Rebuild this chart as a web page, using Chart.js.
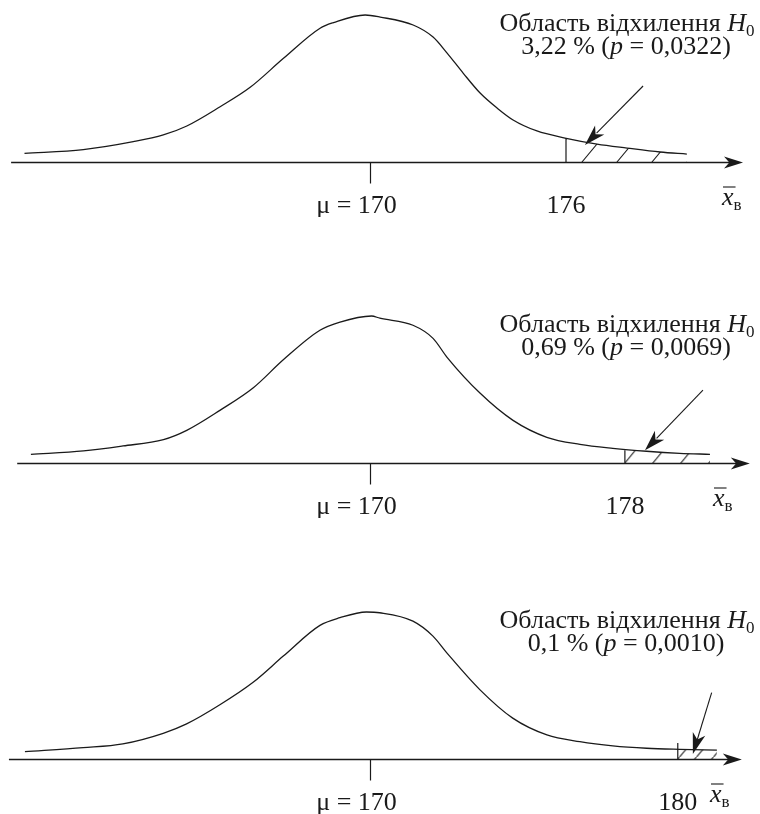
<!DOCTYPE html>
<html>
<head>
<meta charset="utf-8">
<script src="https://cdn.jsdelivr.net/npm/chart.js@4.4.0/dist/chart.umd.min.js"></script>
<style>
  html, body { margin: 0; padding: 0; background: #fff; }
  #wrap { position: relative; width: 760px; height: 814px; overflow: hidden; }
  .panel { position: absolute; left: 0; width: 760px; height: 217px; }
</style>
</head>
<body>
<div id="wrap">
  <div class="panel" style="top:0px"><canvas id="c0" width="760" height="217"></canvas></div>
  <div class="panel" style="top:301px"><canvas id="c1" width="760" height="217"></canvas></div>
  <div class="panel" style="top:597px"><canvas id="c2" width="760" height="217"></canvas></div>
</div>
<script>
// values (x in units of the variable, y as share of the peak height)
const meanValue = 170;
const critValues = [176, 178, 180];
const shareLabels = ['3,22 %', '0,69 %', '0,1 %'];
const pLabels = ['0,0322', '0,0069', '0,0010'];

// x range of each panel (the drawing is schematic, each panel has its own stretch)
const xMin = [158.67, 158.39, 157.99];
const xMax = [181.94, 182.24, 182.67];

const curve1X = [159.42, 161.22, 162.75, 163.67, 164.39, 165.41, 166.33, 167.35, 168.47, 168.88, 169.85, 170.31, 171.32, 171.93, 172.36, 172.85, 173.37, 173.89, 174.38, 175.11, 175.97, 176.95, 177.87, 178.88, 179.70];
const curve1Y = [0.059, 0.084, 0.138, 0.184, 0.245, 0.376, 0.508, 0.705, 0.910, 0.948, 1.000, 0.986, 0.932, 0.850, 0.741, 0.605, 0.469, 0.367, 0.286, 0.211, 0.163, 0.122, 0.095, 0.068, 0.054];

const curve2X = [159.36, 161.01, 162.25, 163.52, 164.25, 165.29, 166.34, 167.28, 168.43, 169.06, 170.05, 170.31, 171.35, 171.98, 172.42, 173.46, 174.49, 175.55, 176.59, 177.62, 178.68, 179.72, 180.67];
const curve2Y = [0.059, 0.082, 0.116, 0.159, 0.222, 0.358, 0.512, 0.702, 0.903, 0.959, 1.000, 0.985, 0.937, 0.848, 0.719, 0.474, 0.290, 0.175, 0.127, 0.100, 0.080, 0.066, 0.059];

const curve3X = [158.80, 160.69, 161.98, 163.29, 164.05, 165.13, 166.21, 167.19, 168.38, 169.03, 169.89, 170.32, 171.40, 172.05, 172.50, 173.57, 174.64, 175.75, 176.82, 177.89, 178.99, 180.06, 181.27];
const curve3Y = [0.050, 0.077, 0.103, 0.175, 0.239, 0.369, 0.522, 0.700, 0.909, 0.961, 1.000, 0.995, 0.938, 0.836, 0.722, 0.472, 0.278, 0.164, 0.118, 0.089, 0.073, 0.066, 0.061];

// height of the critical line and of the curve where the tail starts
const critLineTop = [0.163, 0.086, 0.109];
const tailStartY = [0.163, 0.086, 0.068];

// pointer arrows to the rejection region
const arrowFromX = [178.36, 180.45, 181.10];
const arrowFromY = [0.517, 0.495, 0.451];
const arrowToX = [176.58, 178.63, 180.49];
const arrowToY = [0.116, 0.086, 0.034];

// x axis extent
const axisFrom = [159.01, 158.93, 158.28];
const axisTo = [181.42, 181.92, 182.08];

const curvesX = [curve1X, curve2X, curve3X];
const curvesY = [curve1Y, curve2Y, curve3Y];

// look
const INK = '#1a1a1a';
const FONT = '"Liberation Serif", "Times New Roman", serif';
const TEXT_SIZE = 26;
const SUB_SIZE = 17;
const hatchGap = [35, 28, 17];
const hatchShift = [16, 0, 0];
const xbarLeft = [722, 713, 710];
const hatches = [];

function fontStr(size, italic) {
  return (italic ? 'italic ' : '') + size + 'px ' + FONT;
}

// draw a line of text made of pieces (plain / italic / subscript)
function drawRich(ctx, parts, x, y, align) {
  let total = 0;
  parts.forEach(p => {
    ctx.font = fontStr(p.sub ? SUB_SIZE : TEXT_SIZE, p.it);
    p.w = ctx.measureText(p.t).width;
    total += p.w;
  });
  let cx = align === 'center' ? x - total / 2 : (align === 'right' ? x - total : x);
  ctx.textAlign = 'left';
  ctx.textBaseline = 'alphabetic';
  parts.forEach(p => {
    ctx.font = fontStr(p.sub ? SUB_SIZE : TEXT_SIZE, p.it);
    ctx.fillText(p.t, cx, y + (p.sub ? 5 : 0));
    cx += p.w;
  });
  return total;
}

function arrowHead(ctx, x1, y1, x2, y2, len, half) {
  const a = Math.atan2(y2 - y1, x2 - x1);
  const c = Math.cos(a), s = Math.sin(a);
  const bx = x2 - len * c, by = y2 - len * s;
  const notch = len * 0.72;
  ctx.beginPath();
  ctx.moveTo(x2, y2);
  ctx.lineTo(bx - s * half, by + c * half);
  ctx.lineTo(x2 - notch * c, y2 - notch * s);
  ctx.lineTo(bx + s * half, by - c * half);
  ctx.closePath();
  ctx.fill();
}

function makeHatch(ctx, w) {
  const h = Math.round(w * 1.2);
  const tile = document.createElement('canvas');
  tile.width = w;
  tile.height = h;
  const g = tile.getContext('2d');
  g.strokeStyle = INK;
  g.lineWidth = 1.1;
  g.beginPath();
  g.moveTo(-w * 0.1, h * 1.1);
  g.lineTo(w * 1.1, -h * 0.1);
  g.stroke();
  return { pattern: ctx.createPattern(tile, 'repeat'), w: w, h: h };
}

const decorPlugin = {
  id: 'decor',
  beforeDatasetsDraw(chart) {
    const i = chart.options.panelIndex;
    const hatch = hatches[i];
    const X = chart.scales.x.getPixelForValue(critValues[i]) + hatchShift[i];
    const Y = chart.scales.y.getPixelForValue(0);
    const tx = ((X + hatch.w * Y / hatch.h) % hatch.w + hatch.w) % hatch.w;
    hatch.pattern.setTransform(new DOMMatrix([1, 0, 0, 1, tx, 0]));
  },
  afterDraw(chart) {
    const i = chart.options.panelIndex;
    const ctx = chart.ctx;
    const xs = chart.scales.x, ys = chart.scales.y;
    const Y = Math.round(ys.getPixelForValue(0)) + 0.5;
    ctx.save();
    ctx.strokeStyle = INK;
    ctx.fillStyle = INK;
    ctx.lineWidth = 1.3;

    // x axis with arrow
    const ax0 = xs.getPixelForValue(axisFrom[i]);
    const ax1 = xs.getPixelForValue(axisTo[i]);
    ctx.beginPath();
    ctx.moveTo(ax0, Y);
    ctx.lineTo(ax1 - 8, Y);
    ctx.stroke();
    arrowHead(ctx, ax0, Y, ax1, Y, 19, 6);

    // tick at the mean
    const mx = Math.round(xs.getPixelForValue(meanValue)) + 0.5;
    ctx.lineWidth = 1.2;
    ctx.beginPath();
    ctx.moveTo(mx, Y);
    ctx.lineTo(mx, Y + 21);
    ctx.stroke();

    // pointer arrow
    const p0x = xs.getPixelForValue(arrowFromX[i]), p0y = ys.getPixelForValue(arrowFromY[i]);
    const p1x = xs.getPixelForValue(arrowToX[i]), p1y = ys.getPixelForValue(arrowToY[i]);
    ctx.lineWidth = 1.1;
    ctx.beginPath();
    ctx.moveTo(p0x, p0y);
    ctx.lineTo(p1x + (p0x - p1x) * 0.2, p1y + (p0y - p1y) * 0.2);
    ctx.stroke();
    arrowHead(ctx, p0x, p0y, p1x, p1y, 21, 6.5);

    // labels under the axis
    drawRich(ctx, [{ t: 'μ = ' + meanValue }], mx - 14, Y + 50, 'center');
    drawRich(ctx, [{ t: String(critValues[i]) }], xs.getPixelForValue(critValues[i]), Y + 50, 'center');

    // x-bar with subscript
    const xl = xbarLeft[i];
    ctx.font = fontStr(TEXT_SIZE, true);
    const xw = ctx.measureText('x').width;
    drawRich(ctx, [{ t: 'x', it: true }, { t: 'в', sub: true }], xl, Y + 42, 'left');
    ctx.lineWidth = 1.1;
    ctx.beginPath();
    ctx.moveTo(xl + 1, Y + 24.5);
    ctx.lineTo(xl + xw + 2, Y + 24.5);
    ctx.stroke();

    // header
    drawRich(ctx, [{ t: 'Область відхилення ' }, { t: 'H', it: true }, { t: '0', sub: true }], 627, 31, 'center');
    drawRich(ctx, [{ t: shareLabels[i] + ' (' }, { t: 'p', it: true }, { t: ' = ' + pLabels[i] + ')' }], 626, 54, 'center');
    ctx.restore();
  }
};

function buildPanel(i) {
  const canvas = document.getElementById('c' + i);
  const ctx = canvas.getContext('2d');
  const xsArr = curvesX[i], ysArr = curvesY[i];
  const crit = critValues[i];

  const curve = xsArr.map((x, k) => ({ x: x, y: ysArr[k] }));
  const tail = [{ x: crit, y: 0 }, { x: crit, y: tailStartY[i] }]
    .concat(curve.filter(p => p.x > crit));
  tail.push({ x: tail[tail.length - 1].x, y: 0 });
  const critLine = [{ x: crit, y: 0 }, { x: crit, y: critLineTop[i] }];

  hatches[i] = makeHatch(ctx, hatchGap[i]);

  new Chart(ctx, {
    type: 'line',
    data: {
      datasets: [
        {
          data: tail,
          borderWidth: 0,
          borderColor: 'rgba(0,0,0,0)',
          backgroundColor: hatches[i].pattern,
          fill: true,
          tension: 0,
          pointRadius: 0,
          order: 3
        },
        {
          data: curve,
          borderColor: INK,
          borderWidth: 1.3,
          fill: false,
          cubicInterpolationMode: 'monotone',
          pointRadius: 0,
          order: 1
        },
        {
          data: critLine,
          borderColor: INK,
          borderWidth: 1.2,
          fill: false,
          tension: 0,
          pointRadius: 0,
          order: 2
        }
      ]
    },
    options: {
      panelIndex: i,
      responsive: false,
      animation: false,
      devicePixelRatio: 1,
      layout: { padding: { top: 15, bottom: 55, left: 0, right: 0 } },
      scales: {
        x: { type: 'linear', min: xMin[i], max: xMax[i], display: false },
        y: { type: 'linear', min: 0, max: 1, display: false }
      },
      datasets: { line: { clip: false } },
      plugins: { legend: { display: false }, tooltip: { enabled: false } }
    },
    plugins: [decorPlugin]
  });
}

[0, 1, 2].forEach(buildPanel);
</script>
</body>
</html>
